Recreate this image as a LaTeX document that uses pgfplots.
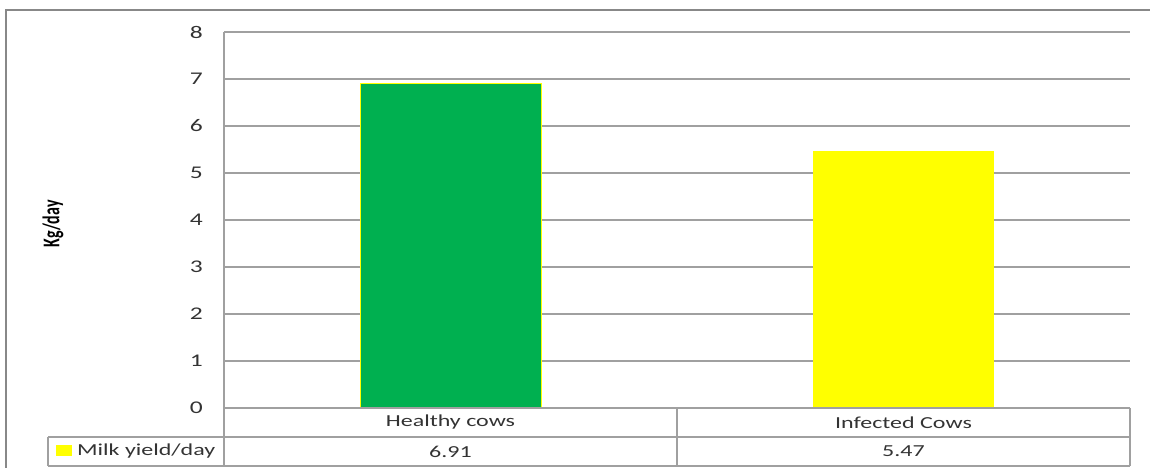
\documentclass[border=0pt]{standalone}
\usepackage{graphicx}
\usepackage{fontspec}
\setmainfont{Carlito}
\usepackage{pgfplots}
\pgfplotsset{compat=1.18}
\definecolor{barG}{HTML}{00B050}
\definecolor{barY}{HTML}{FFFF00}
\definecolor{gridc}{HTML}{A0A0A0}
\definecolor{borderc}{HTML}{888888}
\definecolor{txt}{HTML}{333333}
\newcommand{\sx}[1]{\scalebox{1.5}[1.05]{#1}}
\newcommand{\tf}{\fontsize{16bp}{19bp}\selectfont}
\newcommand{\tfy}{\fontsize{17bp}{20bp}\selectfont}
\begin{document}
\begin{tikzpicture}[x=1bp,y=1bp]
\useasboundingbox (0,0) rectangle (1150,468);
% outer chart border
\draw[borderc, line width=1.5bp] (6,-10) -- (6,458) -- (1160,458);
\begin{axis}[
  at={(224bp,60bp)}, anchor=south west,
  scale only axis, width=906bp, height=376bp,
  xmin=-0.5, xmax=1.5, ymin=0, ymax=8,
  ytick={0,1,...,8}, xtick=\empty,
  axis line style={draw=none},
  major tick length=0pt,
  ymajorgrids, grid style={gridc, line width=1.2bp},
  yticklabel={\sx{\pgfmathprintnumber[assume math mode=true]{\tick}}},
  yticklabel style={font=\tfy, text=txt, anchor=east, inner sep=0pt, xshift=-21bp},
  clip=false,
]
\addplot[ybar, bar width=0.4, bar shift=0pt, fill=barG, draw=barY, line width=0.8bp] coordinates {(0,6.91)};
\addplot[ybar, bar width=0.4, bar shift=0pt, fill=barY, draw=none] coordinates {(1,5.47)};
\end{axis}
% data table lines
\begin{scope}[gridc, line width=1.5bp]
\draw (224,436) -- (224,2);
\draw (224,60) -- (1130,60);
\draw (677,60) -- (677,2);
\draw (1130,60) -- (1130,2);
\draw (48,31) -- (1130,31);
\draw (48,2) -- (1130,2);
\draw (48,31) -- (48,2);
\end{scope}
% table text
\begin{scope}[font=\tf, text=txt, inner sep=0pt]
\node at (450.5,45.5) {\sx{Healthy cows}};
\node at (903.5,45.5) {\sx{Infected Cows}};
\node at (450.5,16.5) {\sx{6.91}};
\node at (903.5,16.5) {\sx{5.47}};
\fill[barY] (56,12) rectangle (72,22.5);
\node[anchor=west] at (77,16.5) {\sx{Milk yield/day}};
\node[rotate=90, font=\tf\bfseries, text=black] at (53,244) {\scalebox{1}[1.5]{Kg/day}};
\end{scope}
\end{tikzpicture}
\end{document}
